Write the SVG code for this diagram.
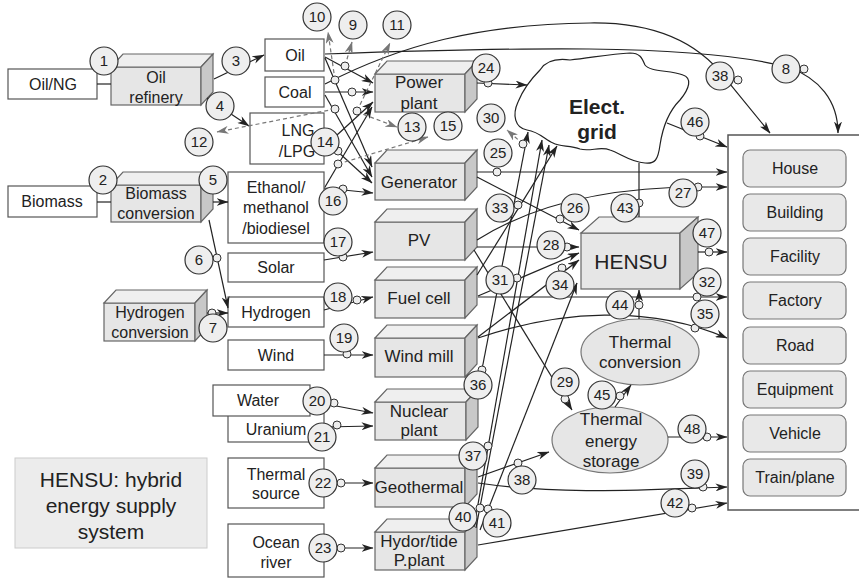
<svg xmlns="http://www.w3.org/2000/svg" width="859" height="579" viewBox="0 0 859 579">
<defs>
<marker id="a" viewBox="0 0 12 8" refX="11.5" refY="4" markerWidth="12" markerHeight="8" markerUnits="userSpaceOnUse" orient="auto"><path d="M0,0 L12,4 L0,8 L3.5,4z" fill="#222"/></marker>
<marker id="g" viewBox="0 0 12 8" refX="11.5" refY="4" markerWidth="12" markerHeight="8" markerUnits="userSpaceOnUse" orient="auto"><path d="M0,0 L12,4 L0,8 L3.5,4z" fill="#777"/></marker>
</defs>
<style>
text{font-family:"Liberation Sans",Arial,sans-serif;fill:#222;text-anchor:middle}
.bx{fill:#fff;stroke:#555;stroke-width:1.2}
.f{fill:#e6e6e6;stroke:#666;stroke-width:1.2}
.t{fill:#efefef;stroke:#666;stroke-width:1.2}
.s{fill:#c8c8c8;stroke:#666;stroke-width:1.2}
.el{fill:#e6e6e6;stroke:#777;stroke-width:1.2}
.u{fill:#e8e8e8;stroke:#777;stroke-width:1.2}
.c{fill:#eeeeee;stroke:#333;stroke-width:1.2}
.sc{fill:#eeeeee;stroke:#333;stroke-width:1}
.ln{fill:none;stroke:#222;stroke-width:1.2}
.ar{marker-end:url(#a)}
.dl{fill:none;stroke:#777;stroke-width:1.2;stroke-dasharray:4 3;marker-end:url(#g)}
.n{font-size:16px}
.b{font-size:17px}
.cn{font-size:15px}
</style>
<rect x="0" y="0" width="859" height="579" fill="#fff"/>

<!-- source boxes -->
<g id="oilng"><rect class="bx" x="8" y="69" width="89" height="30"/><text class="n" x="53" y="90">Oil/NG</text></g>
<g id="biomass"><rect class="bx" x="8" y="186" width="89" height="31"/><text class="n" x="52" y="207">Biomass</text></g>
<g id="oilrefinery"><rect class="f" x="111" y="67" width="90" height="38"/><polygon class="t" points="111,67 123,54 213,54 201,67"/><polygon class="s" points="201,67 213,54 213,92 201,105"/><text class="n" x="156" y="83">Oil</text><text class="n" x="156" y="103">refinery</text></g>
<g id="biomassconv"><rect class="f" x="111" y="185" width="90" height="37"/><polygon class="t" points="111,185 123,172 213,172 201,185"/><polygon class="s" points="201,185 213,172 213,209 201,222"/><text class="n" x="156" y="199">Biomass</text><text class="n" x="156" y="219">conversion</text></g>
<g id="hydrogenconv"><rect class="f" x="104" y="303" width="91" height="38"/><polygon class="t" points="104,303 116,290 207,290 195,303"/><polygon class="s" points="195,303 207,290 207,328 195,341"/><text class="n" x="150" y="318">Hydrogen</text><text class="n" x="150" y="338">conversion</text></g>

<g id="oil"><rect class="bx" x="265" y="39" width="59" height="32"/><text class="n" x="295" y="61">Oil</text></g>
<g id="coal"><rect class="bx" x="265" y="77" width="59" height="30"/><text class="n" x="295" y="98">Coal</text></g>
<g id="lng"><rect class="bx" x="250" y="113" width="74" height="51"/><text class="n" x="298" y="136">LNG</text><text class="n" x="297" y="157">/LPG</text></g>
<g id="ethanol"><rect class="bx" x="228" y="172" width="96" height="71"/><text class="n" x="276" y="193">Ethanol/</text><text class="n" x="276" y="213">methanol</text><text class="n" x="276" y="234">/biodiesel</text></g>
<g id="solar"><rect class="bx" x="228" y="253" width="96" height="29"/><text class="n" x="276" y="273">Solar</text></g>
<g id="hydrogen"><rect class="bx" x="228" y="297" width="96" height="30"/><text class="n" x="276" y="318">Hydrogen</text></g>
<g id="wind"><rect class="bx" x="228" y="340" width="96" height="30"/><text class="n" x="276" y="361">Wind</text></g>
<g id="uranium"><rect class="bx" x="228" y="400" width="96" height="42"/><text class="n" x="276" y="435">Uranium</text></g>
<g id="water"><rect class="bx" x="213" y="385" width="97" height="31"/><text class="n" x="258" y="406">Water</text></g>
<g id="thermalsource"><rect class="bx" x="228" y="458" width="96" height="50"/><text class="n" x="276" y="480">Thermal</text><text class="n" x="276" y="499">source</text></g>
<g id="ocean"><rect class="bx" x="228" y="524" width="96" height="53"/><text class="n" x="276" y="548">Ocean</text><text class="n" x="276" y="568">river</text></g>

<!-- plants -->
<g id="powerplant"><rect class="f" x="375" y="74" width="90" height="38"/><polygon class="t" points="375,74 387,61 477,61 465,74"/><polygon class="s" points="465,74 477,61 477,99 465,112"/><text class="b" x="419" y="88">Power</text><text class="b" x="419" y="109">plant</text></g>
<g id="generator"><rect class="f" x="375" y="163" width="90" height="37"/><polygon class="t" points="375,163 387,150 477,150 465,163"/><polygon class="s" points="465,163 477,150 477,187 465,200"/><text class="b" x="419" y="188">Generator</text></g>
<g id="pv"><rect class="f" x="375" y="222" width="90" height="38"/><polygon class="t" points="375,222 387,209 477,209 465,222"/><polygon class="s" points="465,222 477,209 477,247 465,260"/><text class="b" x="419" y="246">PV</text></g>
<g id="fuelcell"><rect class="f" x="375" y="280" width="90" height="38"/><polygon class="t" points="375,280 387,267 477,267 465,280"/><polygon class="s" points="465,280 477,267 477,305 465,318"/><text class="b" x="419" y="304">Fuel cell</text></g>
<g id="windmill"><rect class="f" x="375" y="338" width="90" height="39"/><polygon class="t" points="375,338 387,325 477,325 465,338"/><polygon class="s" points="465,338 477,325 477,364 465,377"/><text class="b" x="419" y="362">Wind mill</text></g>
<g id="nuclear"><rect class="f" x="375" y="402" width="91" height="38"/><polygon class="t" points="375,402 387,389 478,389 466,402"/><polygon class="s" points="466,402 478,389 478,427 466,440"/><text class="b" x="419" y="417">Nuclear</text><text class="b" x="419" y="436">plant</text></g>
<g id="geothermal"><rect class="f" x="375" y="468" width="90" height="39"/><polygon class="t" points="375,468 387,455 477,455 465,468"/><polygon class="s" points="465,468 477,455 477,494 465,507"/><text class="b" x="419" y="493">Geothermal</text></g>
<g id="hydro"><rect class="f" x="375" y="532" width="90" height="38"/><polygon class="t" points="375,532 387,519 477,519 465,532"/><polygon class="s" points="465,532 477,519 477,557 465,570"/><text class="b" x="419" y="547">Hydor/tide</text><text class="b" x="419" y="566">P.plant</text></g>

<!-- grid, HENSU, thermal -->
<g id="grid"><path d="M570,60 C555,58 545,62 540,70 C530,80 522,92 518,102 C512,115 515,128 527,130 C540,132 545,140 553,143 C560,147 570,145 580,149 C590,152 600,146 610,150 C620,153 630,162 645,163 C655,164 658,160 660,145 C663,125 670,110 680,100 C690,88 692,78 683,75 C670,70 650,72 645,65 C642,58 640,53 630,53 C610,54 590,58 570,60 Z" fill="#fff" stroke="#222" stroke-width="1.2"/><text x="597" y="114" font-size="21" font-weight="bold">Elect.</text><text x="597" y="139" font-size="21" font-weight="bold">grid</text></g>
<g id="hensu"><rect class="f" x="581" y="233" width="99" height="56"/><polygon class="t" points="581,233 599,217 698,217 680,233"/><polygon class="s" points="680,233 698,217 698,273 680,289"/><text x="631" y="269" font-size="21">HENSU</text></g>
<g id="thermalconv"><ellipse class="el" cx="640" cy="352" rx="59" ry="33"/><text class="b" x="640" y="348">Thermal</text><text class="b" x="640" y="368">conversion</text></g>
<g id="thermalstorage"><ellipse class="el" cx="610" cy="440" rx="58" ry="33"/><text class="b" x="611" y="425">Thermal</text><text class="b" x="611" y="447">energy</text><text class="b" x="611" y="467">storage</text></g>

<!-- users -->
<g id="users"><rect x="728" y="135" width="140" height="375" fill="#fff" stroke="#555" stroke-width="1.5"/></g>
<g id="house"><rect class="u" x="743" y="150" width="103" height="37" rx="7"/><text class="n" x="795" y="174">House</text></g>
<g id="building"><rect class="u" x="743" y="194" width="103" height="37" rx="7"/><text class="n" x="795" y="218">Building</text></g>
<g id="facility"><rect class="u" x="743" y="238" width="103" height="37" rx="7"/><text class="n" x="795" y="262">Facility</text></g>
<g id="factory"><rect class="u" x="743" y="282" width="103" height="37" rx="7"/><text class="n" x="795" y="306">Factory</text></g>
<g id="road"><rect class="u" x="743" y="327" width="103" height="37" rx="7"/><text class="n" x="795" y="351">Road</text></g>
<g id="equipment"><rect class="u" x="743" y="371" width="103" height="37" rx="7"/><text class="n" x="795" y="395">Equipment</text></g>
<g id="vehicle"><rect class="u" x="743" y="415" width="103" height="37" rx="7"/><text class="n" x="795" y="439">Vehicle</text></g>
<g id="trainplane"><rect class="u" x="743" y="459" width="103" height="37" rx="7"/><text class="n" x="795" y="483">Train/plane</text></g>

<g id="legend"><rect x="15" y="458" width="192" height="90" fill="#ececec" stroke="#ccc"/><text x="111" y="487" font-size="21">HENSU: hybrid</text><text x="111" y="513" font-size="21">energy supply</text><text x="111" y="539" font-size="21">system</text></g>

<!-- connectors -->
<g id="connectors">
<path class="ln" d="M97,84 L111,84"/>
<path class="ln" d="M97,202 L111,202"/>
<path class="ln ar" d="M214,79 L264,55"/>
<path class="ln ar" d="M207,98 L249,126"/>
<path class="ln ar" d="M213,202 L228,202"/>
<path class="ln ar" d="M209,220 L228,308"/>
<path class="ln ar" d="M207,313 L228,313"/>
<path class="ln ar" d="M325,54 C500,48 700,42 790,68 C818,78 838,100 838,133"/>
<path class="ln ar" d="M325,84 C400,45 480,24 590,23 C660,22 700,45 725,78 L770,133"/>
<path class="ln ar" d="M325,57 L373,83"/>
<path class="ln ar" d="M325,92 L373,92"/>
<path class="ln ar" d="M325,146 L373,102"/>
<path class="ln ar" d="M325,187 L372,107"/>
<path class="ln ar" d="M325,58 L372,167"/>
<path class="ln ar" d="M325,95 L372,177"/>
<path class="ln ar" d="M325,140 L372,183"/>
<path class="ln ar" d="M324,188 L373,193"/>
<path class="ln ar" d="M324,260 L373,252"/>
<path class="ln ar" d="M324,310 L373,297"/>
<path class="ln ar" d="M324,355 L373,355"/>
<path class="ln ar" d="M310,401 L373,413"/>
<path class="ln ar" d="M324,427 L373,426"/>
<path class="ln ar" d="M324,483 L373,483"/>
<path class="ln ar" d="M324,548 L373,548"/>
<path class="ln ar" d="M477,83 L527,85"/>
<path class="ln ar" d="M477,172 L727,172"/>
<path class="ln ar" d="M477,177 L579,230"/>
<path class="ln ar" d="M477,240 C540,200 620,187 700,187 L727,187"/>
<path class="ln ar" d="M477,247 L579,247"/>
<path class="ln ar" d="M474,250 L572,410"/>
<path class="ln ar" d="M478,296 L579,253"/>
<path class="ln ar" d="M478,297 L727,297"/>
<path class="ln ar" d="M477,275 L557,146"/>
<path class="ln ar" d="M478,337 L579,260"/>
<path class="ln ar" d="M478,338 C560,310 650,305 727,338"/>
<path class="ln ar" d="M477,395 L528,132"/>
<path class="ln ar" d="M474,527 L542,140"/>
<path class="ln ar" d="M476,528 L549,145"/>
<path class="ln ar" d="M480,530 L577,283"/>
<path class="ln ar" d="M478,477 L549,452"/>
<path class="ln ar" d="M478,483 C560,495 640,490 727,487"/>
<path class="ln ar" d="M478,545 L727,503"/>
<path class="ln" d="M639,163 L639,217"/>
<path class="ln ar" d="M639,319 L639,290"/>
<path class="ln ar" d="M615,407 L631,385"/>
<path class="ln ar" d="M667,123 L727,147"/>
<path class="ln ar" d="M698,252 L727,252"/>
<path class="ln ar" d="M668,437 L727,437"/>
<path class="dl" d="M345,66 L352,42"/>
<path class="dl" d="M335,80 L328,32"/>
<path class="dl" d="M357,111 L390,43"/>
<path class="dl" d="M335,109 L217,132"/>
<path class="dl" d="M357,112 L397,127"/>
<path class="dl" d="M338,164 L428,137"/>
<path class="dl" d="M523,144 L507,130"/>
</g>

<!-- small circles -->
<g id="taps">
<circle class="sc" cx="345" cy="66" r="4"/><circle class="sc" cx="335" cy="80" r="4"/><circle class="sc" cx="352" cy="92" r="4"/><circle class="sc" cx="335" cy="109" r="4"/><circle class="sc" cx="357" cy="111" r="4"/><circle class="sc" cx="338" cy="151" r="4"/><circle class="sc" cx="338" cy="164" r="4"/><circle class="sc" cx="343" cy="189" r="4"/>
<circle class="sc" cx="217" cy="258" r="4"/><circle class="sc" cx="212" cy="313" r="4"/>
<circle class="sc" cx="343" cy="257" r="4"/><circle class="sc" cx="357" cy="300" r="4"/><circle class="sc" cx="347" cy="354" r="4"/><circle class="sc" cx="334" cy="403" r="4"/><circle class="sc" cx="337" cy="425" r="4"/><circle class="sc" cx="341" cy="483" r="4"/><circle class="sc" cx="341" cy="548" r="4"/>
<circle class="sc" cx="488" cy="83" r="4"/><circle class="sc" cx="497" cy="172" r="4"/><circle class="sc" cx="560" cy="219" r="4"/><circle class="sc" cx="698" cy="187" r="4"/><circle class="sc" cx="567" cy="247" r="4"/><circle class="sc" cx="565" cy="399" r="4"/><circle class="sc" cx="523" cy="144" r="4"/><circle class="sc" cx="517" cy="278" r="4"/><circle class="sc" cx="697" cy="297" r="4"/><circle class="sc" cx="518" cy="205" r="4"/><circle class="sc" cx="562" cy="268" r="4"/><circle class="sc" cx="695" cy="328" r="4"/><circle class="sc" cx="482" cy="370" r="4"/><circle class="sc" cx="488" cy="446" r="4"/><circle class="sc" cx="518" cy="463" r="4"/><circle class="sc" cx="738" cy="80" r="4"/><circle class="sc" cx="703" cy="487" r="4"/><circle class="sc" cx="480" cy="508" r="4"/><circle class="sc" cx="488" cy="509" r="4"/><circle class="sc" cx="692" cy="508" r="4"/><circle class="sc" cx="639" cy="203" r="4"/><circle class="sc" cx="639" cy="305" r="4"/><circle class="sc" cx="620" cy="396" r="4"/><circle class="sc" cx="700" cy="136" r="4"/><circle class="sc" cx="709" cy="252" r="4"/><circle class="sc" cx="707" cy="437" r="4"/><circle class="sc" cx="804" cy="69" r="4"/>
</g>

<!-- numbered labels -->
<g id="labels" class="cn">
<g><circle class="c" cx="104" cy="61" r="14"/><text class="cn" x="104" y="66">1</text></g>
<g><circle class="c" cx="103" cy="180" r="14"/><text class="cn" x="103" y="185">2</text></g>
<g><circle class="c" cx="236" cy="61" r="14"/><text class="cn" x="236" y="66">3</text></g>
<g><circle class="c" cx="220" cy="106" r="14"/><text class="cn" x="220" y="111">4</text></g>
<g><circle class="c" cx="213" cy="180" r="14"/><text class="cn" x="213" y="185">5</text></g>
<g><circle class="c" cx="199" cy="260" r="14"/><text class="cn" x="199" y="265">6</text></g>
<g><circle class="c" cx="213" cy="328" r="14"/><text class="cn" x="213" y="333">7</text></g>
<g><circle class="c" cx="786" cy="69" r="14"/><text class="cn" x="786" y="74">8</text></g>
<g><circle class="c" cx="353" cy="25" r="14"/><text class="cn" x="353" y="30">9</text></g>
<g><circle class="c" cx="317" cy="17" r="14"/><text class="cn" x="317" y="22">10</text></g>
<g><circle class="c" cx="397" cy="25" r="14"/><text class="cn" x="397" y="30">11</text></g>
<g><circle class="c" cx="199" cy="142" r="14"/><text class="cn" x="199" y="147">12</text></g>
<g><circle class="c" cx="412" cy="127" r="14"/><text class="cn" x="412" y="132">13</text></g>
<g><circle class="c" cx="325" cy="142" r="14"/><text class="cn" x="325" y="147">14</text></g>
<g><circle class="c" cx="448" cy="126" r="14"/><text class="cn" x="448" y="131">15</text></g>
<g><circle class="c" cx="333" cy="201" r="14"/><text class="cn" x="333" y="206">16</text></g>
<g><circle class="c" cx="338" cy="242" r="14"/><text class="cn" x="338" y="247">17</text></g>
<g><circle class="c" cx="338" cy="297" r="14"/><text class="cn" x="338" y="302">18</text></g>
<g><circle class="c" cx="344" cy="338" r="14"/><text class="cn" x="344" y="343">19</text></g>
<g><circle class="c" cx="317" cy="401" r="14"/><text class="cn" x="317" y="406">20</text></g>
<g><circle class="c" cx="322" cy="437" r="14"/><text class="cn" x="322" y="442">21</text></g>
<g><circle class="c" cx="323" cy="483" r="14"/><text class="cn" x="323" y="488">22</text></g>
<g><circle class="c" cx="323" cy="548" r="14"/><text class="cn" x="323" y="553">23</text></g>
<g><circle class="c" cx="486" cy="68" r="14"/><text class="cn" x="486" y="73">24</text></g>
<g><circle class="c" cx="498" cy="153" r="14"/><text class="cn" x="498" y="158">25</text></g>
<g><circle class="c" cx="575" cy="208" r="14"/><text class="cn" x="575" y="213">26</text></g>
<g><circle class="c" cx="683" cy="193" r="14"/><text class="cn" x="683" y="198">27</text></g>
<g><circle class="c" cx="551" cy="245" r="14"/><text class="cn" x="551" y="250">28</text></g>
<g><circle class="c" cx="565" cy="382" r="14"/><text class="cn" x="565" y="387">29</text></g>
<g><circle class="c" cx="491" cy="118" r="14"/><text class="cn" x="491" y="123">30</text></g>
<g><circle class="c" cx="500" cy="280" r="14"/><text class="cn" x="500" y="285">31</text></g>
<g><circle class="c" cx="707" cy="282" r="14"/><text class="cn" x="707" y="287">32</text></g>
<g><circle class="c" cx="500" cy="208" r="14"/><text class="cn" x="500" y="213">33</text></g>
<g><circle class="c" cx="560" cy="285" r="14"/><text class="cn" x="560" y="290">34</text></g>
<g><circle class="c" cx="705" cy="314" r="14"/><text class="cn" x="705" y="319">35</text></g>
<g><circle class="c" cx="478" cy="385" r="14"/><text class="cn" x="478" y="390">36</text></g>
<g><circle class="c" cx="473" cy="456" r="14"/><text class="cn" x="473" y="461">37</text></g>
<g><circle class="c" cx="522" cy="480" r="14"/><text class="cn" x="522" y="485">38</text></g>
<g><circle class="c" cx="720" cy="76" r="14"/><text class="cn" x="720" y="81">38</text></g>
<g><circle class="c" cx="695" cy="474" r="14"/><text class="cn" x="695" y="479">39</text></g>
<g><circle class="c" cx="463" cy="517" r="14"/><text class="cn" x="463" y="522">40</text></g>
<g><circle class="c" cx="497" cy="523" r="14"/><text class="cn" x="497" y="528">41</text></g>
<g><circle class="c" cx="675" cy="503" r="14"/><text class="cn" x="675" y="508">42</text></g>
<g><circle class="c" cx="625" cy="208" r="14"/><text class="cn" x="625" y="213">43</text></g>
<g><circle class="c" cx="620" cy="305" r="14"/><text class="cn" x="620" y="310">44</text></g>
<g><circle class="c" cx="602" cy="395" r="14"/><text class="cn" x="602" y="400">45</text></g>
<g><circle class="c" cx="695" cy="122" r="14"/><text class="cn" x="695" y="127">46</text></g>
<g><circle class="c" cx="707" cy="233" r="14"/><text class="cn" x="707" y="238">47</text></g>
<g><circle class="c" cx="692" cy="429" r="14"/><text class="cn" x="692" y="434">48</text></g>
</g>
</svg>
